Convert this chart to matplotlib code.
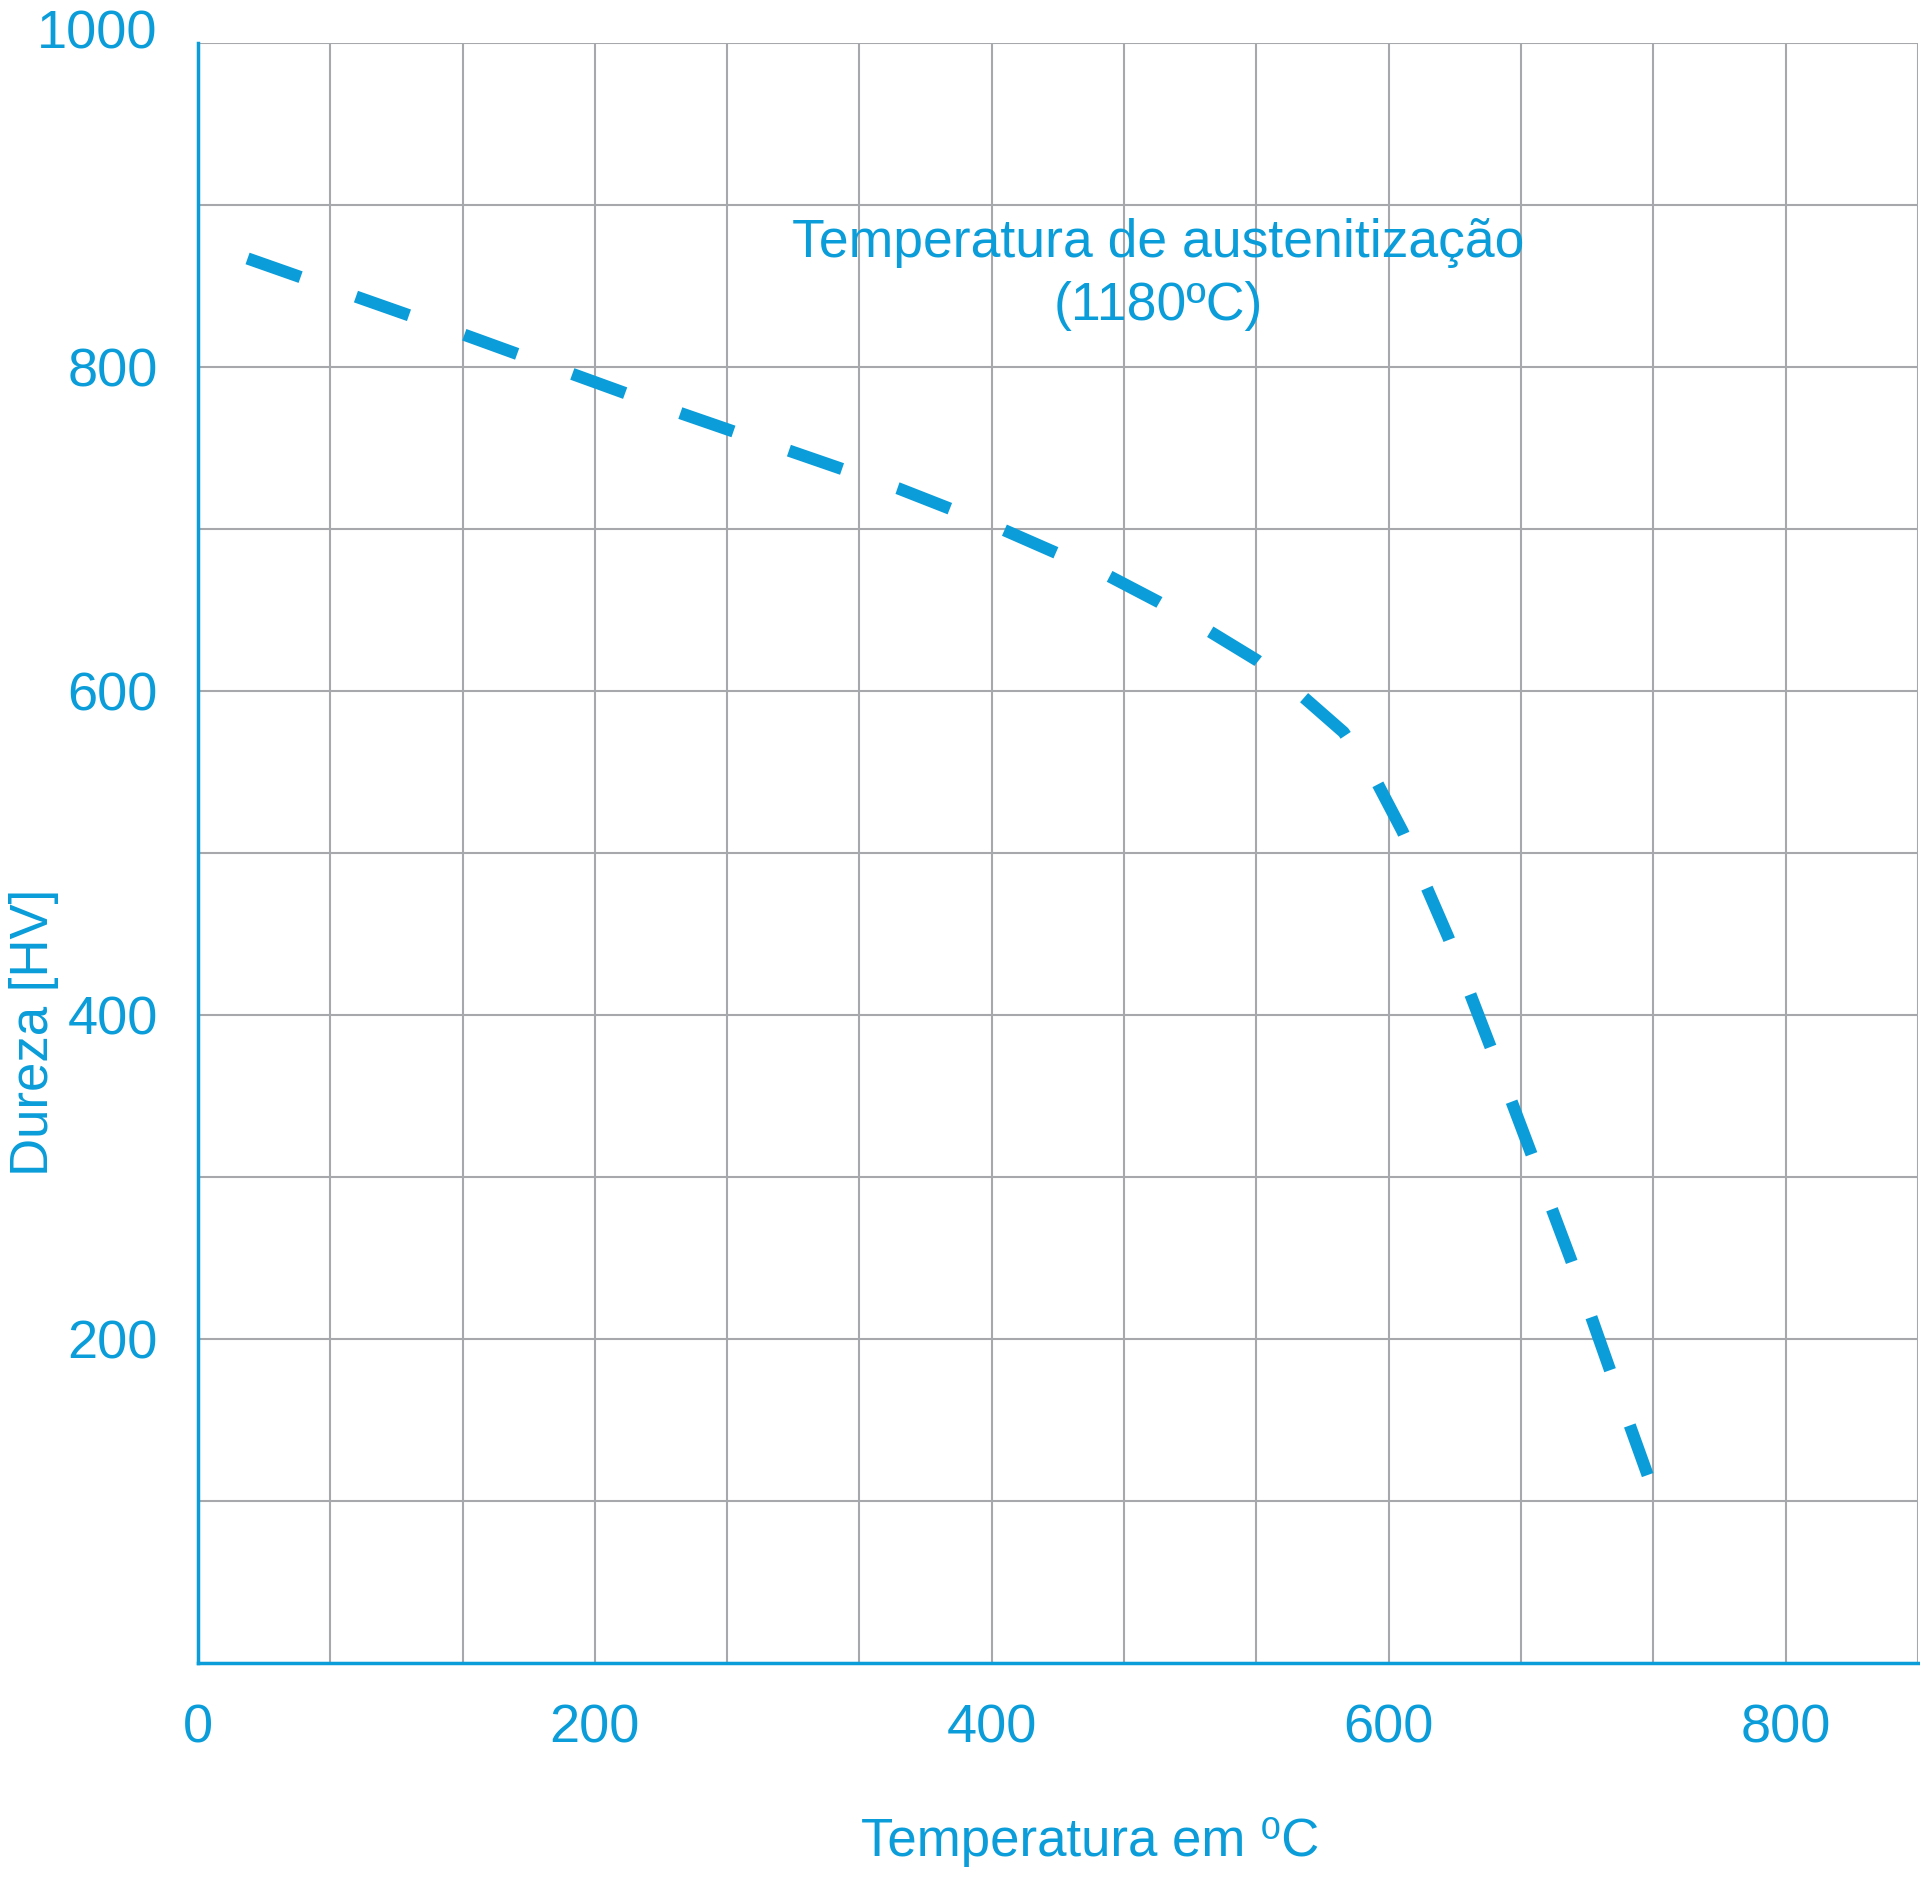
import matplotlib
matplotlib.use("Agg")
import matplotlib.pyplot as plt
from matplotlib.ticker import FixedLocator, MultipleLocator
from matplotlib.transforms import ScaledTranslation

plt.rcParams['font.family'] = ['Liberation Sans', 'DejaVu Sans']

blue = "#0A9DD9"
grid_gray = "#A6A8AB"

# curve (temperature in C, hardness in HV)
temperature = [25, 134, 242, 353, 405, 459, 484, 509.5, 533.6, 556.8,
               577.3, 594, 607, 618.5, 630, 640.6, 650.8, 661.3, 671.5,
               681.5, 691.6, 701.4, 710.9, 720.8, 730.5]
hardness = [867, 820, 772, 725, 700, 671, 655, 637, 619, 596.5,
            574.5, 543.7, 513.3, 480.5, 448, 414.5, 382, 348.6, 315.6,
            282.6, 249.7, 216, 183, 149, 116]

x_ticks = [0, 200, 400, 600, 800]
y_ticks = [200, 400, 600, 800, 1000]
x_max = 2600 / 3  # 13 grid cells of 200/3
y_max = 1000

note = "Temperatura de austenitização\n(1180ºC)"
note_xy = (484, 857)

fig = plt.figure(figsize=(19.2, 18.78), dpi=100)
ax = fig.add_axes([0.1031, 0.1145, 0.8958, 0.8626])

ax.plot(temperature, hardness, color=blue, lw=8.8,
        linestyle=(0, (4.6, 4.8)), dash_capstyle='butt', zorder=3)

ax.set_xlim(0, x_max)
ax.set_ylim(0, y_max)

ax.xaxis.set_major_locator(FixedLocator(x_ticks))
ax.xaxis.set_minor_locator(MultipleLocator(200 / 3))
ax.yaxis.set_major_locator(FixedLocator(y_ticks))
ax.yaxis.set_minor_locator(MultipleLocator(100))

ax.grid(which='both', color=grid_gray, lw=1.5)
ax.set_axisbelow(True)
ax.tick_params(which='both', length=0, labelsize=39, labelcolor=blue, pad=29)

for side in ['top', 'right']:
    ax.spines[side].set_visible(False)
for side in ['left', 'bottom']:
    ax.spines[side].set_color(blue)
    ax.spines[side].set_linewidth(2.5)
    ax.spines[side].set_zorder(4)

ax.set_xlabel("Temperatura em ⁰C", fontsize=38, color=blue)
ax.xaxis.set_label_coords(0.5186, -0.0948)
ax.set_ylabel("Dureza [HV]", fontsize=38, color=blue)
ax.yaxis.set_label_coords(-0.0808, 0.3895)

ax.text(note_xy[0], note_xy[1], note, fontsize=38.5, color=blue,
        ha='center', va='center', linespacing=1.35)

# the top label sits a bit above its grid line in the original
top_label = ax.yaxis.get_major_ticks()[-1].label1
top_label.set_transform(top_label.get_transform() +
                        ScaledTranslation(0, 0.14, fig.dpi_scale_trans))

fig.savefig("out.png", dpi=100)
